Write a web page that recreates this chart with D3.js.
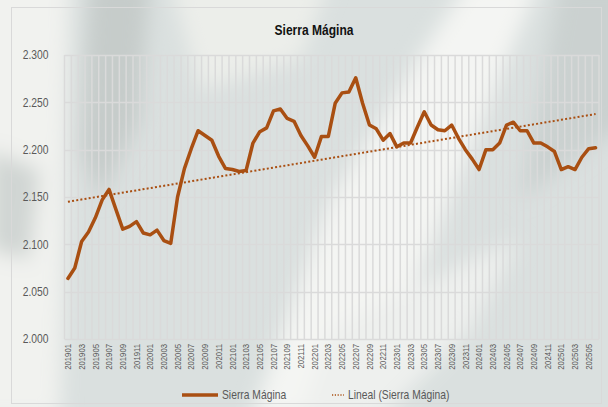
<!DOCTYPE html>
<html>
<head>
<meta charset="utf-8">
<script src="https://cdn.jsdelivr.net/npm/d3@7"></script>
<style>
  body { margin: 0; background: #fff; }
  svg text { font-family: "Liberation Sans Narrow", "Arial Narrow", "Liberation Sans", Arial, sans-serif; }
</style>
</head>
<body>
<div id="chart"></div>
<script>
var width = 608,
	height = 407;

// categories (YYYYMM)
var months = [
	'201901','201902','201903','201904','201905','201906','201907','201908','201909','201910','201911','201912',
	'202001','202002','202003','202004','202005','202006','202007','202008','202009','202010','202011','202012',
	'202101','202102','202103','202104','202105','202106','202107','202108','202109','202110','202111','202112',
	'202201','202202','202203','202204','202205','202206','202207','202208','202209','202210','202211','202212',
	'202301','202302','202303','202304','202305','202306','202307','202308','202309','202310','202311','202312',
	'202401','202402','202403','202404','202405','202406','202407','202408','202409','202410','202411','202412',
	'202501','202502','202503','202504','202505','202506'
];

// Sierra Mágina series
var sierraMagina = [
	2064, 2075, 2103, 2113, 2128, 2147, 2158, 2137, 2116, 2119, 2124, 2112,
	2110, 2115, 2104, 2101, 2150, 2180, 2201, 2220, 2215, 2210, 2193, 2180,
	2179, 2177, 2178, 2207, 2219, 2223, 2241, 2243, 2233, 2230, 2215, 2204,
	2192, 2214, 2214, 2249, 2260, 2261, 2276, 2249, 2226, 2222, 2210, 2217,
	2203, 2207, 2207, 2224, 2240, 2226, 2221, 2220, 2226, 2212, 2200, 2190,
	2179, 2200, 2200, 2207, 2226, 2229, 2220, 2220, 2207, 2207, 2203, 2198,
	2179, 2182, 2179, 2192, 2201, 2202
];

var yTicks = [2000, 2050, 2100, 2150, 2200, 2250, 2300];
var seriesName = 'Sierra Mágina',
	trendName = 'Lineal (Sierra Mágina)';

var lineColor = '#a94f12';
var narrow = 0.86; // fake condensed face, no Arial Narrow here

var esLocale = d3.formatLocale({ decimal: ',', thousands: '.', grouping: [3], currency: ['', ' €'] });
var fmt = esLocale.format(',.0f');

var svg = d3.select('#chart').append('svg')
	.attr('width', width)
	.attr('height', height);

// faded photo-like background
var defs = svg.append('defs');
defs.append('filter').attr('id', 'blur')
	.attr('x', '-50%').attr('y', '-50%').attr('width', '200%').attr('height', '200%')
	.append('feGaussianBlur').attr('stdDeviation', 10);

svg.append('rect').attr('width', width).attr('height', height).attr('fill', '#dae0df');

var bg = svg.append('g').attr('filter', 'url(#blur)');
var shapes = [
	{ pts: [[-30,-30],[70,-30],[60,420],[-30,420]], fill: '#f1f2ef' },
	{ pts: [[90,-20],[150,-20],[140,120],[100,200],[80,150]], fill: '#c6ccca' },
	{ pts: [[170,-20],[330,-20],[300,60],[200,90]], fill: '#eceeea' },
	{ pts: [[330,200],[430,40],[470,-20],[540,-20],[450,200],[360,420],[250,420]], fill: '#f4f5f3' },
	{ pts: [[560,-20],[630,-20],[630,120],[520,200]], fill: '#cbd1d0' },
	{ pts: [[330,330],[470,260],[520,240],[470,330],[380,420],[300,420]], fill: '#eef0ee' },
	{ pts: [[-10,150],[40,170],[30,260],[-10,250]], fill: '#d0d5d3' }
];
bg.selectAll('path').data(shapes).enter().append('path')
	.attr('d', function(d){ return 'M' + d.pts.join('L') + 'Z'; })
	.attr('fill', function(d){ return d.fill; });

// chart area border
svg.append('rect')
	.attr('x', 11.5).attr('y', 7.5)
	.attr('width', 590).attr('height', 396)
	.attr('fill', 'none')
	.attr('stroke', '#d9d9d9');

var margin = { left: 64.5, right: 599, top: 55, bottom: 339 };

var x = d3.scaleBand().domain(months).range([margin.left, margin.right]).padding(0);
var y = d3.scaleLinear().domain([2000, 2300]).range([margin.bottom, margin.top]);
var cx = function(d){ return x(d) + x.bandwidth() / 2; };

// gridlines
var grid = svg.append('g').attr('stroke', '#dadada').attr('stroke-width', 1.5);
grid.selectAll('.hg').data(yTicks).enter().append('line')
	.attr('x1', margin.left).attr('x2', margin.right)
	.attr('y1', function(d){ return Math.round(y(d)) + 0.5; })
	.attr('y2', function(d){ return Math.round(y(d)) + 0.5; });
grid.selectAll('.vg').data(months.concat(['end'])).enter().append('line')
	.attr('x1', function(d, i){ return i < months.length ? x(d) : margin.right; })
	.attr('x2', function(d, i){ return i < months.length ? x(d) : margin.right; })
	.attr('y1', margin.top).attr('y2', margin.bottom);

// y axis
var yAxis = svg.append('g')
	.attr('transform', 'translate(' + margin.left + ',0)')
	.call(d3.axisLeft(y).tickValues(yTicks).tickFormat(fmt).tickSize(0).tickPadding(0));
yAxis.select('.domain').remove();
yAxis.selectAll('text')
	.attr('fill', '#595959')
	.style('font-size', '12px')
	.attr('x', -16 / narrow)
	.attr('transform', 'scale(' + narrow + ',1)');

// x axis
var xAxis = svg.append('g')
	.attr('transform', 'translate(0,' + margin.bottom + ')')
	.call(d3.axisBottom(x).tickValues(months.filter(function(d, i){ return i % 2 === 0; })).tickSize(0).tickPadding(4));
xAxis.select('.domain').remove();
xAxis.selectAll('text')
	.attr('fill', '#595959')
	.style('font-size', '9px')
	.attr('transform', 'rotate(-90) scale(' + narrow + ',1)')
	.attr('text-anchor', 'end')
	.attr('dy', '0.35em')
	.attr('x', -5 / narrow)
	.attr('y', 0);

// linear trend (least squares, like the spreadsheet "Lineal" trendline)
var n = sierraMagina.length,
	mx = d3.mean(sierraMagina, function(d, i){ return i; }),
	my = d3.mean(sierraMagina);
var sxy = d3.sum(sierraMagina, function(d, i){ return (i - mx) * (d - my); }),
	sxx = d3.sum(sierraMagina, function(d, i){ return (i - mx) * (i - mx); });
var slope = sxy / sxx,
	icpt = my - slope * mx;

var line = d3.line()
	.x(function(d, i){ return cx(months[i]); })
	.y(function(d){ return y(d); });

svg.append('path')
	.datum([{ i: 0, v: icpt }, { i: n - 1, v: icpt + slope * (n - 1) }])
	.attr('d', d3.line()
		.x(function(d){ return cx(months[d.i]); })
		.y(function(d){ return y(d.v); }))
	.attr('fill', 'none')
	.attr('stroke', lineColor)
	.attr('stroke-width', 2)
	.attr('stroke-dasharray', '2,2.2');

svg.append('path')
	.datum(sierraMagina)
	.attr('d', line)
	.attr('fill', 'none')
	.attr('stroke', lineColor)
	.attr('stroke-width', 3.5)
	.attr('stroke-linejoin', 'round')
	.attr('stroke-linecap', 'round');

// title
svg.append('text')
	.attr('x', 314 / narrow).attr('y', 35)
	.attr('transform', 'scale(' + narrow + ',1)')
	.attr('text-anchor', 'middle')
	.attr('fill', '#111')
	.style('font-size', '14px')
	.style('font-weight', 'bold')
	.text(seriesName);

// legend
var lg = svg.append('g').attr('transform', 'translate(0,395)');
lg.append('line').attr('x1', 182).attr('x2', 218).attr('y1', 0).attr('y2', 0)
	.attr('stroke', lineColor).attr('stroke-width', 3.5);
lg.append('text').attr('x', 222 / narrow).attr('y', 0).attr('dy', '0.35em')
	.attr('transform', 'scale(' + narrow + ',1)')
	.attr('fill', '#595959').style('font-size', '12px').text(seriesName);
lg.append('line').attr('x1', 332).attr('x2', 344).attr('y1', 0).attr('y2', 0)
	.attr('stroke', lineColor).attr('stroke-width', 1.5).attr('stroke-dasharray', '1.2,1.6');
lg.append('text').attr('x', 348 / narrow).attr('y', 0).attr('dy', '0.35em')
	.attr('transform', 'scale(' + narrow + ',1)')
	.attr('fill', '#595959').style('font-size', '12px').text(trendName);
</script>
</body>
</html>
